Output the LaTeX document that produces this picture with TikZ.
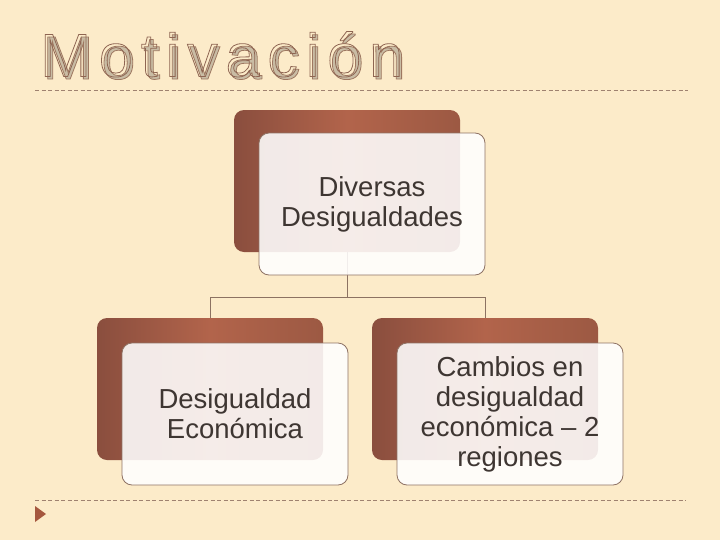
\documentclass[tikz,border=0pt]{standalone}
\usepackage{fontspec}
\setmainfont{Liberation Sans}
\newfontfamily\titlefont[LetterSpace=13]{Liberation Sans}
\usetikzlibrary{positioning}
\definecolor{paper}{HTML}{FCEBC9}
\definecolor{boxDark}{HTML}{8A4E3E}
\definecolor{boxMid}{HTML}{B2644B}
\definecolor{boxRight}{HTML}{9C5943}
\definecolor{frontLine}{HTML}{8E7264}
\definecolor{linkCol}{HTML}{8C7262}
\definecolor{ruleCol}{HTML}{9F8270}
\definecolor{ink}{HTML}{3E3632}
\definecolor{titleFill}{HTML}{C9BCA4}
\definecolor{marker}{HTML}{A5573E}
% title letters: filled + stroked, and stroked only
\newcommand{\outlineText}[1]{\textcolor{titleFill}{\special{pdf:literal direct 2 Tr 0.8 w 0.62 0.47 0.38 RG}#1\special{pdf:literal direct 0 Tr}}}
\newcommand{\hollowText}[1]{\textcolor{titleFill}{\special{pdf:literal direct 1 Tr 0.8 w 0.557 0.396 0.322 RG}#1\special{pdf:literal direct 0 Tr}}}
\tikzset{
    backBox/.style={rectangle, rounded corners=10bp, minimum width=226bp, minimum height=142bp, shading=axis, left color=boxDark, right color=boxRight, middle color=boxMid},
    frontBox/.style={rectangle, rounded corners=10bp, minimum width=226bp, minimum height=142bp, draw=frontLine, line width=0.8bp, fill=white, fill opacity=0.88, text opacity=1, align=center, text=ink, font=\fontsize{27.5bp}{30bp}\selectfont},
    titleText/.style={anchor=base west, inner sep=0pt, font=\titlefont\fontsize{61bp}{61bp}\selectfont},
    link/.style={draw=linkCol, line width=0.8bp},
    rule/.style={draw=ruleCol, line width=0.8bp, dash pattern=on 4bp off 2.5bp}
}
\begin{document}
\begin{tikzpicture}[node distance=208bp]
  \path[use as bounding box, fill=paper] (0,0) rectangle (720bp,-540bp);

  % title
  \node (titleFilled) [titleText] at (42.5bp,-79bp) {\outlineText{Motivación}};
  \node (title) [titleText] at (40bp,-76.5bp) {\hollowText{Motivación}};
  \draw[rule] (35bp,-90bp) -- (688bp,-90bp);

  % back boxes
  \node (top) [backBox] at (347bp,-181bp) {};
  \node (left) [backBox, below of=top, xshift=-137bp] {};
  \node (right) [backBox, below of=top, xshift=138bp] {};

  \node (split) [coordinate, node distance=116bp, below of=top] {};
  \draw[link] (top) -- (split);
  \draw[link] (split) -| (left);
  \draw[link] (split) -| (right);

  % front boxes
  \node (topText) [frontBox, node distance=25bp, right of=top, yshift=-23bp] {Diversas\\Desigualdades};
  \node (leftText) [frontBox, node distance=25bp, right of=left, yshift=-25bp] {Desigualdad\\Económica};
  \node (rightText) [frontBox, node distance=25bp, right of=right, yshift=-25bp] {Cambios en\\desigualdad\\económica -- 2\\regiones};

  % footer
  \draw[rule] (35bp,-500bp) -- (686bp,-500bp);
  \fill[marker] (35bp,-506bp) -- (46bp,-514bp) -- (35bp,-522bp) -- cycle;
\end{tikzpicture}
\end{document}
